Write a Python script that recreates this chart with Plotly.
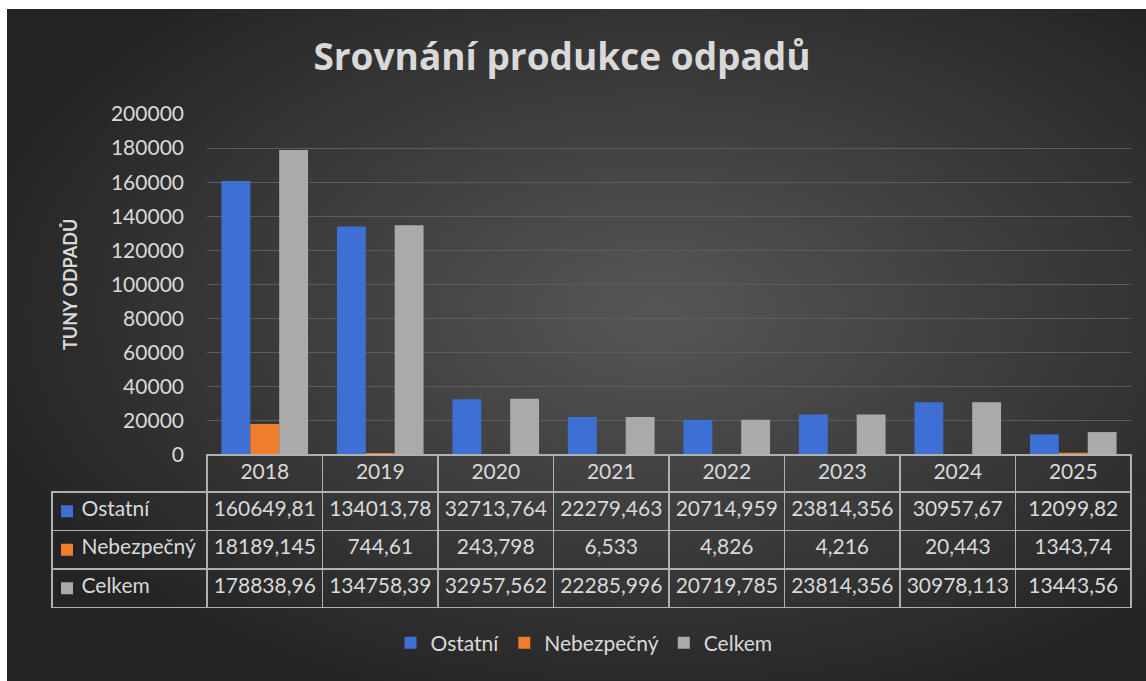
import base64
import plotly.graph_objects as go

years = ["2018", "2019", "2020", "2021", "2022", "2023", "2024", "2025"]
ostatni = [160649.81, 134013.78, 32713.764, 22279.463, 20714.959, 23814.356, 30957.67, 12099.82]
nebezpecny = [18189.145, 744.61, 243.798, 6.533, 4.826, 4.216, 20.443, 1343.74]
celkem = [178838.96, 134758.39, 32957.562, 22285.996, 20719.785, 23814.356, 30978.113, 13443.56]
series_names = ["Ostatní", "Nebezpečný", "Celkem"]
series_values = [ostatni, nebezpecny, celkem]
series_colors = ["#3e70d4", "#ee7d2c", "#aaaaaa"]

W, H = 1146, 681
FONT = "Lato"
TXT = "#d9d9d9"
BORDER = "#b0b0b0"

# table geometry (pixels)
T_LEFT, T_RIGHT, T_TOP = 52, 1131, 455
HEAD_H, ROW_H = 37, 38.5
FIRST_W = 155

def px_x(p):
    return p / W

def px_y(p):
    return 1 - p / H

fig = go.Figure()
for name, vals, col in zip(series_names, series_values, series_colors):
    fig.add_trace(go.Bar(x=years, y=vals, name=name, marker=dict(color=col, line=dict(width=0))))

def fmt(v):
    return str(v).replace(".", ",")

first_col = ["\u00a0\u00a0\u00a0\u00a0" + n for n in series_names]
cols = [first_col] + [[fmt(s[i]) for s in series_values] for i in range(len(years))]
t_bottom = T_TOP + HEAD_H + ROW_H * len(series_names)

fig.add_trace(go.Table(
    domain=dict(x=[px_x(T_LEFT), px_x(T_RIGHT)], y=[px_y(t_bottom + 0.5), px_y(T_TOP)]),
    columnwidth=[FIRST_W] + [(T_RIGHT - T_LEFT - FIRST_W) / len(years)] * len(years),
    header=dict(values=[""] + years, height=HEAD_H,
                fill=dict(color="rgba(0,0,0,0)"),
                line=dict(color=["rgba(0,0,0,0)"] + [BORDER] * len(years), width=1.6),
                font=dict(family=FONT, size=21, color=TXT), align="center"),
    cells=dict(values=cols, height=ROW_H,
               fill=dict(color="rgba(0,0,0,0)"),
               line=dict(color=BORDER, width=1.6),
               font=dict(family=FONT, size=21, color=TXT),
               align=["left"] + ["center"] * len(years)),
))

# legend keys inside the table's first column
shapes = []
for i, col in enumerate(series_colors):
    cy = T_TOP + HEAD_H + ROW_H * (i + 0.5)
    shapes.append(dict(type="rect", xref="paper", yref="paper",
                       x0=px_x(61), x1=px_x(73), y0=px_y(cy + 6), y1=px_y(cy - 6),
                       fillcolor=col, line=dict(width=0)))

svg = ('<svg xmlns="http://www.w3.org/2000/svg" width="1139" height="672" preserveAspectRatio="none">'
       '<defs><radialGradient id="g" cx="57%" cy="45%" r="62%">'
       '<stop offset="0" stop-color="#565656"/><stop offset="1" stop-color="#242424"/>'
       '</radialGradient></defs><rect width="1139" height="672" fill="url(#g)"/></svg>')
bg = "data:image/svg+xml;base64," + base64.b64encode(svg.encode()).decode()

fig.update_layout(
    width=W, height=H,
    margin=dict(l=0, r=0, t=0, b=0, autoexpand=False),
    paper_bgcolor="white",
    plot_bgcolor="rgba(0,0,0,0)",
    images=[dict(source=bg, xref="paper", yref="paper", x=px_x(7), y=px_y(9),
                 sizex=1 - px_x(7), sizey=1 - 9 / H, xanchor="left", yanchor="top",
                 sizing="stretch", layer="below")],
    shapes=shapes,
    title=dict(text="<b>Srovnání produkce odpadů</b>", x=px_x(562), xanchor="center",
               y=px_y(57), yanchor="middle",
               font=dict(family="Open Sans", size=37, color=TXT)),
    barmode="group", bargap=0.25, bargroupgap=0,
    xaxis=dict(domain=[px_x(207), px_x(1131)], showticklabels=False, showgrid=False,
               zeroline=False, showline=False, ticks=""),
    yaxis=dict(domain=[px_y(455), px_y(114)], range=[0, 200000], dtick=20000,
               tickformat="d", showgrid=True, gridcolor="#5c5c5c", gridwidth=1.3,
               zeroline=False, showline=False, ticklabelstandoff=22,
               tickfont=dict(family=FONT, size=21, color=TXT)),
    legend=dict(orientation="h", x=px_x(584), xanchor="center", y=px_y(643), yanchor="middle",
                font=dict(family=FONT, size=21, color=TXT), itemwidth=30,
                bgcolor="rgba(0,0,0,0)"),
    annotations=[dict(text="<b>TUNY ODPADŮ</b>", x=px_x(57), y=px_y(285), xref="paper", yref="paper",
                      textangle=-90, showarrow=False,
                      font=dict(family=FONT, size=18, color=TXT))],
)

fig.write_html("out.html", config={"displayModeBar": False},
               post_script="document.body.style.margin='0';document.body.style.overflow='hidden';")
